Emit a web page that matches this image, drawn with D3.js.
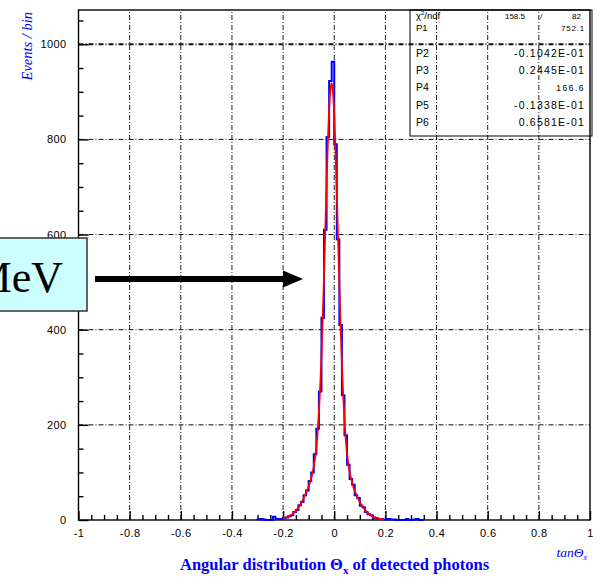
<!DOCTYPE html>
<html>
<head>
<meta charset="utf-8">
<script src="https://cdn.jsdelivr.net/npm/d3@7"></script>
<style>
  body { margin: 0; background: #fff; }
  svg { display: block; }
</style>
</head>
<body>
<svg id="chart" width="603" height="580"></svg>
<script>
// histogram bin edges (tan theta_x) and counts per bin
const binEdges = [-0.30, -0.29, -0.28, -0.27, -0.26, -0.25, -0.24, -0.23, -0.22, -0.21,
  -0.20, -0.19, -0.18, -0.17, -0.16, -0.15, -0.14, -0.13, -0.12, -0.11,
  -0.10, -0.09, -0.08, -0.07, -0.06, -0.05, -0.04, -0.03, -0.02, -0.01,
  0.00, 0.01, 0.02, 0.03, 0.04, 0.05, 0.06, 0.07, 0.08, 0.09,
  0.10, 0.11, 0.12, 0.13, 0.14, 0.15, 0.16, 0.17, 0.18, 0.19,
  0.20, 0.21, 0.22, 0.23, 0.24, 0.25, 0.26, 0.27, 0.28, 0.29,
  0.30, 0.31, 0.32, 0.33, 0.34, 0.35];
const binCounts = [1, 2, 1, 0, 0, 0, 7, 2, 2, 2,
  4, 5, 8, 10, 17, 21, 31, 38, 52, 62,
  82, 100, 138, 192, 270, 425, 610, 805, 923, 963,
  790, 590, 410, 262, 178, 116, 86, 74, 52, 46,
  30, 27, 17, 12, 10, 5, 4, 2, 2, 1,
  1, 2, 1, 1, 0, 0, 0, 0, 2, 0,
  0, 1, 2, 0, 0];

// fit curve
const fitX = [-0.200, -0.195, -0.185, -0.175, -0.165, -0.155, -0.145, -0.135, -0.125, -0.115,
  -0.105, -0.095, -0.085, -0.080, -0.075, -0.070, -0.065, -0.060, -0.055, -0.050,
  -0.045, -0.040, -0.035, -0.030, -0.025, -0.020, -0.015, -0.010, -0.005, 0.000,
  0.005, 0.010, 0.015, 0.020, 0.025, 0.030, 0.035, 0.040, 0.045, 0.050,
  0.055, 0.060, 0.065, 0.075, 0.085, 0.095, 0.105, 0.115, 0.125, 0.135,
  0.145, 0.155, 0.165, 0.175, 0.185, 0.195];
const fitY = [3, 4, 6, 8, 12, 17, 23, 30, 40, 51,
  64, 79, 99, 113, 130, 154, 185, 226, 279, 346,
  425, 515, 611, 707, 793, 862, 905, 918, 899, 850,
  777, 687, 590, 494, 404, 326, 261, 210, 170, 140,
  118, 102, 89, 69, 55, 43, 33, 25, 18, 13,
  9, 6, 4, 3, 2, 1];

const xTicks = [-1, -0.8, -0.6, -0.4, -0.2, 0, 0.2, 0.4, 0.6, 0.8, 1];
const yTicks = [0, 200, 400, 600, 800, 1000];

const statNames = ["P2", "P3", "P4", "P5", "P6"];
const statValues = ["-0.1042E-01", "0.2445E-01", "166.6", "-0.1338E-01", "0.6581E-01"];

const svg = d3.select("#chart");
const x = d3.scaleLinear().domain([-1, 1]).range([78.5, 590]);
const y = d3.scaleLinear().domain([0, 1072]).range([520, 10]);

const gridDash = "5,2,1,2";
const sans = "Liberation Sans, Arial, sans-serif";
const serif = "Liberation Serif, Times New Roman, serif";

// grid
svg.append("g")
  .selectAll("line")
  .data(xTicks.slice(1, -1))
  .join("line")
  .attr("x1", d => x(d)).attr("x2", d => x(d))
  .attr("y1", y(0)).attr("y2", y.range()[1])
  .attr("stroke", "#222").attr("stroke-width", 1)
  .attr("stroke-dasharray", gridDash);

svg.append("g")
  .selectAll("line")
  .data(yTicks.slice(1))
  .join("line")
  .attr("x1", x(-1)).attr("x2", x(1))
  .attr("y1", d => y(d)).attr("y2", d => y(d))
  .attr("stroke", "#111")
  .attr("stroke-width", d => d === 1000 ? 1.8 : 1)
  .attr("stroke-dasharray", gridDash);

// axes, ticks pointing inward
const yAxis = svg.append("g")
  .attr("transform", `translate(${x(-1)},0)`)
  .call(d3.axisLeft(y).tickValues(yTicks).tickSize(-10).tickSizeOuter(0).tickPadding(12)
    .tickFormat(d3.format("d")));
svg.append("g")
  .attr("transform", `translate(${x(-1)},0)`)
  .call(d3.axisLeft(y).tickValues(d3.range(50, 1072, 50).filter(v => v % 200 !== 0))
    .tickSize(-5).tickSizeOuter(0).tickFormat(""));

const xAxis = svg.append("g")
  .attr("transform", `translate(0,${y(0)})`)
  .call(d3.axisBottom(x).tickValues(xTicks).tickSize(-9).tickSizeOuter(0).tickPadding(9)
    .tickFormat(d => d3.format("")(d).replace("\u2212", "-")));
svg.append("g")
  .attr("transform", `translate(0,${y(0)})`)
  .call(d3.axisBottom(x).tickValues(d3.range(-0.95, 1, 0.05).filter(v => Math.abs(v * 5 - Math.round(v * 5)) > 0.01))
    .tickSize(-5).tickSizeOuter(0).tickFormat(""));

svg.selectAll(".tick line").attr("stroke", "#000").attr("stroke-width", 1.4);
svg.selectAll(".domain").remove();
[yAxis, xAxis].forEach(g => g.selectAll("text")
  .attr("font-family", sans)
  .attr("font-size", 11)
  .attr("letter-spacing", 0.4)
  .attr("fill", "#000"));

// frame
svg.append("rect")
  .attr("x", x(-1)).attr("y", y.range()[1])
  .attr("width", x(1) - x(-1)).attr("height", y(0) - y.range()[1])
  .attr("fill", "none").attr("stroke", "#000").attr("stroke-width", 1.4);

// histogram outline
const histPts = [[binEdges[0], 0]];
binCounts.forEach((c, i) => {
  histPts.push([binEdges[i], c]);
  histPts.push([binEdges[i + 1], c]);
});
histPts.push([binEdges[binEdges.length - 1], 0]);

svg.append("path")
  .datum(histPts)
  .attr("fill", "none")
  .attr("stroke", "#0000ff")
  .attr("stroke-width", 2)
  .attr("d", d3.line().x(d => x(d[0])).y(d => y(d[1])));

// fit
svg.append("path")
  .datum(fitX.map((v, i) => [v, fitY[i]]))
  .attr("fill", "none")
  .attr("stroke", "#ff0000")
  .attr("stroke-width", 1.8)
  .attr("d", d3.line().curve(d3.curveCatmullRom).x(d => x(d[0])).y(d => y(d[1])));

// stats box
const stat = svg.append("g").attr("font-family", sans).attr("fill", "#000");
stat.append("rect")
  .attr("x", 410).attr("y", 10).attr("width", 182).attr("height", 126)
  .attr("fill", "none").attr("stroke", "#000").attr("stroke-width", 1);
const chi = stat.append("text").attr("x", 416).attr("y", 19).attr("font-size", 9.5);
chi.append("tspan").text("\u03c7");
chi.append("tspan").attr("dy", -4).attr("font-size", 6).text("2");
chi.append("tspan").attr("dy", 4).text("/ndf");
stat.append("text").attr("x", 525).attr("y", 19).attr("font-size", 8).attr("text-anchor", "end").text("158.5");
stat.append("text").attr("x", 540).attr("y", 19).attr("font-size", 8).text("/");
stat.append("text").attr("x", 581).attr("y", 19).attr("font-size", 8).attr("text-anchor", "end").text("82");
stat.append("text").attr("x", 416).attr("y", 30.5).attr("font-size", 9.5).text("P1");
stat.append("text").attr("x", 585).attr("y", 30.5).attr("font-size", 8).attr("letter-spacing", 0.8)
  .attr("text-anchor", "end").text("752.1");

stat.selectAll(".pname")
  .data(statNames)
  .join("text")
  .attr("x", 416).attr("y", (d, i) => 57 + i * 17.2)
  .attr("font-size", 10.5)
  .text(d => d);
stat.selectAll(".pval")
  .data(statValues)
  .join("text")
  .attr("x", 585).attr("y", (d, i) => 57 + i * 17.2)
  .attr("text-anchor", "end")
  .attr("letter-spacing", d => d === "166.6" ? 1.5 : 1.2)
  .attr("font-size", d => d === "166.6" ? 8.5 : 10.5)
  .text(d => d);

// axis titles
svg.append("text")
  .attr("transform", "translate(32,12) rotate(-90)")
  .attr("text-anchor", "end")
  .attr("font-family", serif)
  .attr("font-style", "italic")
  .attr("font-size", 14.5)
  .attr("fill", "#0000ff")
  .text("Events / bin");

const xt = svg.append("text")
  .attr("x", 587).attr("y", 557)
  .attr("text-anchor", "end")
  .attr("font-family", serif)
  .attr("font-style", "italic")
  .attr("font-size", 13.5)
  .attr("fill", "#0000ff");
xt.append("tspan").text("tan\u0398");
xt.append("tspan").attr("dy", 3).attr("font-size", 8).text("x");

const title = svg.append("text")
  .attr("x", 180).attr("y", 570)
  .attr("font-family", serif)
  .attr("font-weight", "bold")
  .attr("font-size", 16.5)
  .attr("fill", "#0000ff");
title.append("tspan").text("Angular distribution \u0398");
title.append("tspan").attr("dy", 4).attr("font-size", 11).text("x");
title.append("tspan").attr("dy", -4).text(" of detected photons");

// annotation box and arrow
svg.append("rect")
  .attr("x", -3).attr("y", 238).attr("width", 90).attr("height", 73)
  .attr("fill", "#ccffff").attr("stroke", "#333").attr("stroke-width", 1.5);
svg.append("text")
  .attr("x", 63).attr("y", 292)
  .attr("text-anchor", "end")
  .attr("font-family", serif)
  .attr("font-size", 44)
  .attr("fill", "#000")
  .text("MeV");
svg.append("line")
  .attr("x1", 95).attr("x2", 286).attr("y1", 279).attr("y2", 279)
  .attr("stroke", "#000").attr("stroke-width", 6);
svg.append("path")
  .attr("d", "M283,270.5 L303,279 L283,287.5 Z")
  .attr("fill", "#000");
</script>
</body>
</html>
